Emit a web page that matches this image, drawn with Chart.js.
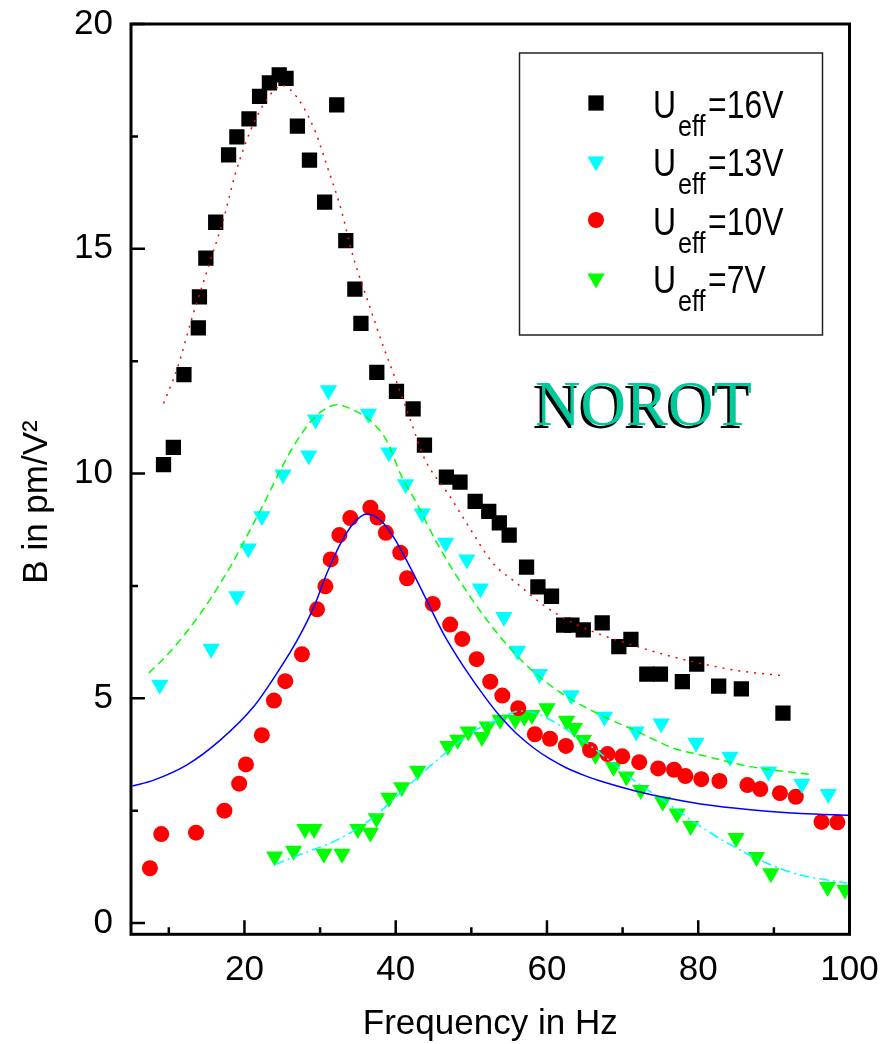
<!DOCTYPE html>
<html lang="en">
<head>
<meta charset="UTF-8">
<title>NOROT - B vs frequency</title>
<script src="https://cdn.jsdelivr.net/npm/chart.js@4.4.1/dist/chart.umd.min.js"></script>
<style>
  html, body { margin: 0; padding: 0; background: #fff; }
  #wrap { width: 895px; height: 1044px; }
</style>
</head>
<body>
<div id="wrap"><canvas id="bChart" width="895" height="1044"></canvas></div>
<script>
// axis ticks
const xTicks = [20, 40, 60, 80, 100];
const xMinor = [10, 30, 50, 70, 90];
const yTicks = [0, 5, 10, 15, 20];
const yMinor = [2.5, 7.5, 12.5, 17.5];

// Ueff = 16V, measured
const freq16 = [9.3, 10.6, 12.0, 13.9, 14.05, 14.9, 16.2, 17.9, 19.0, 20.6, 22.0, 23.3, 24.6, 25.5, 27.0, 28.6, 30.6, 32.2, 33.4, 34.6, 35.4, 37.5, 40.1, 42.3, 43.8, 46.7, 48.5, 50.5, 52.3, 53.7, 55.0, 57.3, 58.8, 60.6, 62.2, 63.3, 64.8, 67.3, 69.5, 71.1, 73.2, 75.0, 77.9, 79.8, 82.7, 85.7, 91.2];
const b16 = [10.2, 10.58, 12.2, 13.24, 13.93, 14.79, 15.59, 17.09, 17.49, 17.89, 18.39, 18.69, 18.87, 18.79, 17.73, 16.97, 16.04, 18.2, 15.18, 14.1, 13.34, 12.25, 11.83, 11.44, 10.63, 9.92, 9.81, 9.38, 9.16, 8.9, 8.63, 7.92, 7.48, 7.27, 6.63, 6.63, 6.52, 6.68, 6.15, 6.31, 5.54, 5.54, 5.37, 5.76, 5.27, 5.21, 4.67];
// Ueff = 16V, fit
const fitFreq16 = [9.3, 11.1, 13.1, 15.5, 17.3, 18.8, 20.8, 22.55, 23.9, 25.1, 26.1, 27.8, 29.4, 30.9, 32.7, 34.4, 36.65, 38.4, 40.2, 42.2, 43.7, 47.2, 49.4, 52.9, 56.0, 59.55, 63.5, 67.9, 71.4, 75.8, 80.2, 84.7, 91.2];
const fitB16 = [11.56, 12.33, 13.48, 14.74, 15.7, 16.67, 17.63, 18.22, 18.52, 18.63, 18.53, 18.15, 17.59, 16.85, 15.92, 14.81, 13.67, 12.81, 12.0, 11.07, 10.37, 9.48, 8.89, 8.0, 7.56, 7.07, 6.67, 6.37, 6.18, 5.96, 5.78, 5.63, 5.5];

// Ueff = 13V
const freq13 = [8.8, 15.6, 19.0, 20.5, 22.3, 25.1, 28.5, 29.4, 31.1, 36.4, 39.1, 41.3, 43.5, 46.6, 49.4, 51.2, 54.3, 56.1, 59.0, 63.2, 67.6, 71.8, 75.1, 79.7, 84.2, 89.3, 93.7, 97.2];
const b13 = [5.3, 6.1, 7.27, 8.33, 9.05, 9.98, 10.4, 11.2, 11.85, 11.33, 10.47, 9.76, 9.11, 8.46, 8.09, 7.44, 6.81, 6.06, 5.54, 5.07, 4.59, 4.26, 4.44, 4.01, 3.7, 3.37, 3.1, 2.87];
const fitFreq13 = [7.35, 10.2, 14.2, 18.1, 21.2, 22.8, 25.2, 27.4, 29.6, 32.25, 34.4, 36.65, 38.9, 40.6, 42.8, 45.5, 49.4, 53.8, 58.2, 62.6, 67.05, 71.45, 76.75, 80.3, 86.9, 95.0];
const fitB13 = [5.56, 6.04, 6.89, 7.92, 8.89, 9.41, 10.22, 10.85, 11.3, 11.53, 11.41, 11.18, 10.7, 10.0, 9.33, 8.44, 7.37, 6.37, 5.59, 5.04, 4.63, 4.3, 3.89, 3.74, 3.48, 3.3];

// Ueff = 10V
const freq10 = [7.5, 9.0, 13.6, 17.35, 19.3, 20.2, 22.3, 23.9, 25.4, 27.6, 29.6, 30.7, 31.4, 32.55, 34.0, 36.65, 37.6, 38.7, 40.6, 41.5, 44.9, 47.2, 48.8, 50.7, 52.5, 54.1, 56.2, 58.4, 60.4, 62.5, 65.7, 68.0, 69.95, 72.2, 74.7, 76.8, 78.3, 80.4, 82.8, 86.5, 88.2, 90.8, 92.9, 96.3, 98.4];
const b10 = [1.22, 1.98, 2.01, 2.5, 3.1, 3.53, 4.18, 4.95, 5.38, 5.98, 6.98, 7.49, 8.09, 8.63, 9.01, 9.24, 9.02, 8.68, 8.24, 7.67, 7.1, 6.64, 6.32, 5.87, 5.37, 5.06, 4.78, 4.2, 4.1, 3.94, 3.85, 3.76, 3.71, 3.58, 3.44, 3.41, 3.27, 3.2, 3.16, 3.07, 2.98, 2.89, 2.81, 2.25, 2.24];
const fitFreq10 = [5.2, 8.0, 12.4, 16.8, 21.2, 24.3, 27.0, 29.2, 30.9, 32.7, 34.4, 36.2, 38.0, 39.7, 41.9, 44.1, 46.3, 49.0, 52.1, 54.0, 56.0, 58.2, 60.4, 62.6, 65.0, 67.05, 71.45, 75.9, 80.3, 84.7, 89.1, 93.5, 100];
const fitB10 = [3.05, 3.18, 3.52, 4.07, 4.81, 5.56, 6.3, 7.04, 7.78, 8.44, 8.89, 9.1, 8.96, 8.59, 7.92, 7.18, 6.44, 5.7, 4.96, 4.56, 4.21, 3.9, 3.65, 3.45, 3.28, 3.16, 2.95, 2.78, 2.65, 2.56, 2.49, 2.44, 2.4];

// Ueff = 7V
const freq7 = [24.0, 26.5, 28.0, 29.2, 30.5, 32.9, 35.0, 36.65, 37.45, 39.1, 40.8, 42.9, 46.9, 48.2, 49.6, 51.4, 52.1, 53.8, 55.8, 57.0, 58.0, 60.0, 62.6, 63.6, 64.8, 66.4, 68.8, 70.5, 72.4, 75.3, 77.2, 79.0, 85.0, 87.7, 89.6, 97.1, 99.4];
const b7 = [1.48, 1.61, 2.09, 2.09, 1.54, 1.54, 2.09, 2.01, 2.33, 2.79, 3.02, 3.39, 3.94, 4.08, 4.26, 4.14, 4.37, 4.52, 4.52, 4.59, 4.63, 4.78, 4.5, 4.34, 4.07, 3.74, 3.47, 3.26, 2.96, 2.7, 2.44, 2.16, 1.89, 1.47, 1.11, 0.8, 0.74];
const fitFreq7 = [24.0, 27.9, 32.25, 36.65, 41.05, 45.5, 49.9, 53.4, 56.5, 59.1, 62.6, 67.05, 71.45, 75.9, 80.3, 84.7, 89.1, 93.5, 99.7];
const fitB7 = [1.3, 1.56, 1.85, 2.3, 2.96, 3.63, 4.22, 4.52, 4.72, 4.63, 4.3, 3.78, 3.18, 2.67, 2.15, 1.7, 1.33, 1.07, 0.89];

const legendLabels = ['=16V', '=13V', '=10V', '=7V'];

const pts = (xs, ys) => xs.map((x, i) => ({ x: x, y: ys[i] }));

const SANS = '"Liberation Sans", Arial, sans-serif';

function fitLine(xs, ys, color, dash) {
    return {
        data: pts(xs, ys),
        showLine: true,
        borderColor: color,
        borderWidth: 1.5,
        borderDash: dash,
        pointRadius: 0,
        cubicInterpolationMode: 'monotone',
        order: 0
    };
}

function markers(xs, ys, color, style, radius, rotation) {
    return {
        data: pts(xs, ys),
        backgroundColor: color,
        borderColor: color,
        pointStyle: style,
        pointRadius: radius,
        pointRotation: rotation || 0,
        pointBorderWidth: 0,
        order: 1
    };
}

const markerStyles = [
    { color: '#000000', style: 'rect', radius: 10.8, rotation: 0 },
    { color: '#00ffff', style: 'triangle', radius: 10, rotation: 180 },
    { color: '#ff0000', style: 'circle', radius: 8, rotation: 0 },
    { color: '#00ff00', style: 'triangle', radius: 10, rotation: 180 }
];

// frame box and inward tick marks
const framePlugin = {
    id: 'frame',
    afterDatasetsDraw(chart) {
        const { ctx, chartArea: a, scales: { x, y } } = chart;
        ctx.save();
        ctx.strokeStyle = '#000';
        ctx.lineWidth = 3;
        ctx.strokeRect(a.left, a.top, a.right - a.left, a.bottom - a.top);
        ctx.lineWidth = 2.5;
        ctx.beginPath();
        const tickX = (list, len) => list.forEach(v => {
            const px = x.getPixelForValue(v);
            ctx.moveTo(px, a.bottom);
            ctx.lineTo(px, a.bottom - len);
        });
        const tickY = (list, len) => list.forEach(v => {
            const py = y.getPixelForValue(v);
            ctx.moveTo(a.left, py);
            ctx.lineTo(a.left + len, py);
        });
        tickX(xTicks, 14);
        tickX(xMinor, 7);
        tickY(yTicks, 14);
        tickY(yMinor, 7);
        ctx.stroke();
        ctx.restore();
    }
};

function narrowText(ctx, text, x, y, size) {
    ctx.save();
    ctx.translate(x, y);
    ctx.scale(0.84, 1);
    ctx.font = size + 'px ' + SANS;
    ctx.textBaseline = 'alphabetic';
    ctx.fillText(text, 0, 0);
    ctx.restore();
}

// axis titles, legend box and the NOROT label
const annotatePlugin = {
    id: 'annotate',
    afterDraw(chart) {
        const { ctx, chartArea: a } = chart;
        ctx.save();
        ctx.fillStyle = '#000';
        ctx.font = '35px ' + SANS;
        ctx.textAlign = 'center';
        ctx.textBaseline = 'alphabetic';
        ctx.fillText('Frequency in Hz', (a.left + a.right) / 2, 1034);

        ctx.save();
        ctx.translate(47, 502);
        ctx.rotate(-Math.PI / 2);
        ctx.fillText('B in pm/V\u00b2', 0, 0);
        ctx.restore();

        // legend
        ctx.lineWidth = 1.5;
        ctx.strokeStyle = '#222';
        ctx.strokeRect(519.5, 53, 303, 282);
        ctx.textAlign = 'left';
        markerStyles.forEach((m, i) => {
            const rowY = 103 + i * 58.5;
            ctx.fillStyle = m.color;
            Chart.helpers.drawPoint(ctx, {
                pointStyle: m.style,
                radius: m.radius,
                rotation: m.rotation,
                borderWidth: 0
            }, 596, rowY);
            ctx.fillStyle = '#000';
            const base = rowY + 14.5;
            narrowText(ctx, 'U', 653, base, 38);
            narrowText(ctx, 'eff', 678, base + 18, 30);
            narrowText(ctx, legendLabels[i], 708, base, 38);
        });

        // NOROT with dark drop shadow
        ctx.font = '63px "Liberation Serif", "Times New Roman", serif';
        ctx.textAlign = 'left';
        ctx.fillStyle = '#000';
        ctx.fillText('NOROT', 535 - 2.5, 425 + 2.5);
        ctx.fillStyle = '#00c99b';
        ctx.fillText('NOROT', 535, 425);
        ctx.restore();
    }
};

new Chart(document.getElementById('bChart'), {
    type: 'scatter',
    data: {
        datasets: [
            fitLine(fitFreq16, fitB16, '#ff0000', [2, 6]),
            fitLine(fitFreq13, fitB13, '#00ff00', [8, 5]),
            fitLine(fitFreq10, fitB10, '#0000ff', []),
            fitLine(fitFreq7, fitB7, '#00ffff', [10, 4, 2, 4]),
            markers(freq16, b16, markerStyles[0].color, markerStyles[0].style, markerStyles[0].radius),
            markers(freq13, b13, markerStyles[1].color, markerStyles[1].style, markerStyles[1].radius, 180),
            markers(freq10, b10, markerStyles[2].color, markerStyles[2].style, markerStyles[2].radius),
            markers(freq7, b7, markerStyles[3].color, markerStyles[3].style, markerStyles[3].radius, 180)
        ]
    },
    options: {
        responsive: false,
        animation: false,
        events: [],
        layout: { padding: { top: 24, right: 45.5, bottom: 0, left: 0 } },
        plugins: {
            legend: { display: false },
            tooltip: { enabled: false }
        },
        scales: {
            x: {
                type: 'linear',
                min: 5,
                max: 100,
                afterBuildTicks: s => { s.ticks = xTicks.map(v => ({ value: v })); },
                afterFit: s => {
                    s.height = 109.7;
                    s.paddingLeft = 0;
                    s.paddingRight = 0;
                },
                grid: { display: false, drawTicks: false },
                border: { display: false },
                ticks: {
                    font: { family: SANS, size: 35 },
                    color: '#000',
                    padding: 15,
                    maxRotation: 0,
                    autoSkip: false
                }
            },
            y: {
                type: 'linear',
                min: -0.25,
                max: 20,
                afterBuildTicks: s => { s.ticks = yTicks.map(v => ({ value: v })); },
                afterFit: s => {
                    s.width = 131;
                    s.paddingTop = 0;
                    s.paddingBottom = 0;
                },
                grid: { display: false, drawTicks: false },
                border: { display: false },
                ticks: {
                    font: { family: SANS, size: 35 },
                    color: '#000',
                    padding: 18,
                    autoSkip: false
                }
            }
        }
    },
    plugins: [framePlugin, annotatePlugin]
});
</script>
</body>
</html>
